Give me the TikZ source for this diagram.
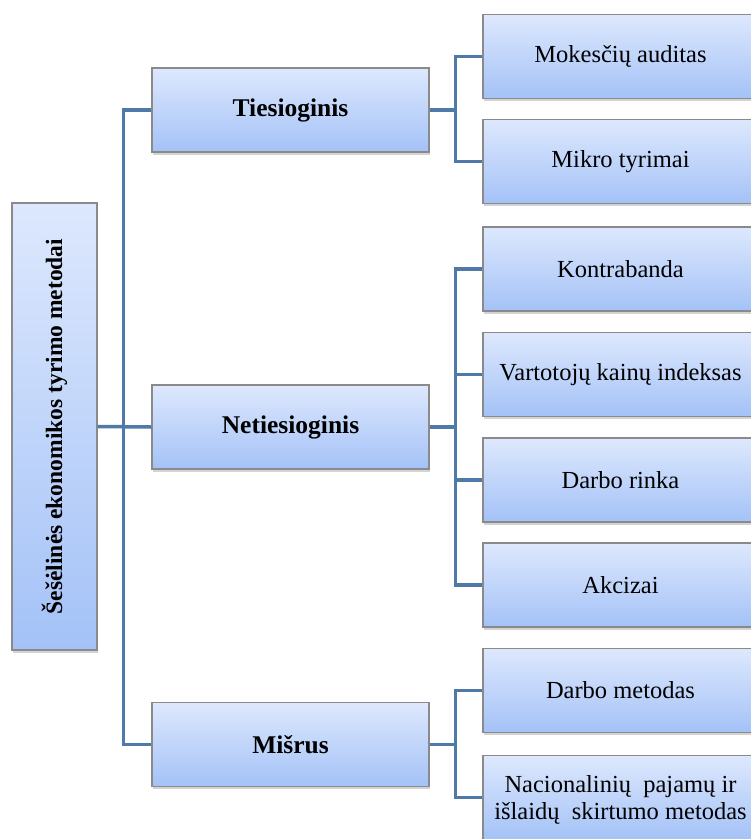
\documentclass[tikz,border=0pt]{standalone}
\usepackage{fontspec}
\setmainfont{Liberation Serif}
\usetikzlibrary{shadows}
\definecolor{boxtop}{HTML}{DDE8FD}
\definecolor{boxbot}{HTML}{A4C2F7}
\definecolor{boxedge}{HTML}{8A8A8A}
\definecolor{conncol}{HTML}{4F79A8}
\tikzset{
  box/.style={rectangle, draw=boxedge, line width=1.2pt, top color=boxtop, bottom color=boxbot,
    drop shadow={shadow xshift=1pt, shadow yshift=-2.5pt, opacity=0.35},
    align=center, inner sep=2pt, font=\fontsize{24.5}{28}\selectfont},
  midbox/.style={box, minimum width=277pt, minimum height=84pt, font=\fontsize{25.5}{28}\selectfont\bfseries},
  leafbox/.style={box, minimum width=275pt, minimum height=84pt},
  conn/.style={draw=conncol, line width=3.5pt}
}
\begin{document}
\begin{tikzpicture}[x=1pt,y=-1pt]
\useasboundingbox (0,0) rectangle (751,839);
\node[box, minimum width=85pt, minimum height=447pt] (root) at (54.5,426.5) {};
\node[rotate=90, font=\fontsize{23.5}{26}\selectfont\bfseries] (roottxt) at (root.center) {Šešėlinės ekonomikos tyrimo metodai};
\node[midbox] (t) at (290.5,110) {Tiesioginis};
\node[midbox] (n) at (290.5,427) {Netiesioginis};
\node[midbox] (m) at (290.5,744.5) {Mišrus};
\node[leafbox] (r1) at (620.5,56.5) {Mokesčių auditas};
\node[leafbox] (r2) at (620.5,161.5) {Mikro tyrimai};
\node[leafbox] (r3) at (620.5,269) {Kontrabanda};
\node[leafbox] (r4) at (620.5,374.5) {Vartotojų kainų indeksas};
\node[leafbox] (r5) at (620.5,480) {Darbo rinka};
\node[leafbox] (r6) at (620.5,585) {Akcizai};
\node[leafbox] (r7) at (620.5,690.5) {Darbo metodas};
\node[leafbox, text depth=0pt] (r8) at (620.5,797.5) {Nacionalinių\ \ pajamų ir\\[-1pt]išlaidų\ \ skirtumo metodas};
% connectors
\draw[conn] (root.east) -- (n.west);
\draw[conn] (root.east) -- ++(26,0) |- (t.west);
\draw[conn] (root.east) -- ++(26,0) |- (m.west);
\draw[conn] (t.east) -- ++(26,0) |- (r1.west);
\draw[conn] (t.east) -- ++(26,0) |- (r2.west);
\draw[conn] (n.east) -- ++(26,0) |- (r3.west);
\draw[conn] (n.east) -- ++(26,0) |- (r4.west);
\draw[conn] (n.east) -- ++(26,0) |- (r5.west);
\draw[conn] (n.east) -- ++(26,0) |- (r6.west);
\draw[conn] (m.east) -- ++(26,0) |- (r7.west);
\draw[conn] (m.east) -- ++(26,0) |- (r8.west);
\end{tikzpicture}
\end{document}
